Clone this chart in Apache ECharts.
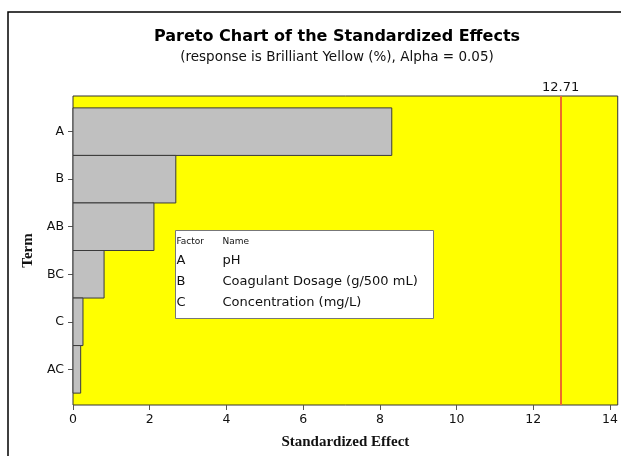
<!DOCTYPE html>
<html>
<head>
<meta charset="utf-8">
<script src="https://cdn.jsdelivr.net/npm/echarts@6/dist/echarts.min.js"></script>
<style>
  html, body { margin: 0; padding: 0; background: #fff; }
  #chart { width: 621px; height: 456px; }
</style>
</head>
<body>
<div id="chart"></div>
<script>
// terms in Pareto order (largest effect on top)
const terms = ["A", "B", "AB", "BC", "C", "AC"];
const effects = [8.31, 2.68, 2.11, 0.81, 0.26, 0.20];
const critical = 12.71;
const factorKeys = ["A", "B", "C"];
const factorNames = ["pH", "Coagulant Dosage (g/500 mL)", "Concentration (mg/L)"];

const chart = echarts.init(document.getElementById("chart"));

const tickFont = { fontFamily: "DejaVu Sans", fontSize: 12.5, color: "#111" };

// legend box rows
const legendItems = [
  { type: "rect", shape: { x: 0, y: 0, width: 258, height: 88 },
    style: { fill: "#fff", stroke: "#777", lineWidth: 1 } },
  { type: "text", x: 1, y: 7, style: { text: "Factor", font: "9px 'DejaVu Sans'", fill: "#111" } },
  { type: "text", x: 47, y: 7, style: { text: "Name", font: "9px 'DejaVu Sans'", fill: "#111" } }
];
factorKeys.forEach((k, i) => {
  legendItems.push({ type: "text", x: 1, y: 24 + i * 21,
    style: { text: k, font: "13px 'DejaVu Sans'", fill: "#111" } });
  legendItems.push({ type: "text", x: 47, y: 24 + i * 21,
    style: { text: factorNames[i], font: "13px 'DejaVu Sans'", fill: "#111" } });
});

const options = {
  animation: false,
  backgroundColor: "#fff",
  title: {
    text: "Pareto Chart of the Standardized Effects",
    subtext: "(response is Brilliant Yellow (%), Alpha = 0.05)",
    left: 332,
    textAlign: "center",
    top: 24,
    itemGap: 5,
    textStyle: { fontFamily: "DejaVu Sans", fontWeight: "bold", fontSize: 16, color: "#000" },
    subtextStyle: { fontFamily: "DejaVu Sans", fontSize: 13.5, color: "#111" }
  },
  grid: {
    left: 73, right: 3, top: 96, bottom: 51,
    show: true,
    backgroundColor: "#ffff00",
    borderColor: "#333",
    borderWidth: 1
  },
  xAxis: {
    type: "value",
    min: 0,
    max: 14.2,
    interval: 2,
    splitLine: { show: false },
    axisLine: { show: false, onZero: false },
    axisTick: { show: true, length: 5, lineStyle: { color: "#555" } },
    axisLabel: { ...tickFont, margin: 8, showMaxLabel: false },
    name: "Standardized Effect",
    nameLocation: "middle",
    nameGap: 30,
    nameTextStyle: { fontFamily: "Liberation Serif", fontWeight: "bold", fontSize: 15, color: "#111" }
  },
  yAxis: {
    type: "value",
    inverse: true,
    min: -0.75,
    max: 5.75,
    splitLine: { show: false },
    axisLine: { show: false, onZero: false },
    axisTick: { show: true, length: 5, lineStyle: { color: "#555" }, customValues: terms.map((t, i) => i) },
    axisLabel: {
      ...tickFont,
      margin: 9,
      customValues: terms.map((t, i) => i),
      formatter: (v) => terms[Math.round(v)] || ""
    },
    name: "Term",
    nameLocation: "middle",
    nameGap: 36,
    nameRotate: 90,
    nameTextStyle: { fontFamily: "Liberation Serif", fontWeight: "bold", fontSize: 15, color: "#111" }
  },
  series: [
    {
      type: "custom",
      data: effects.map((v, i) => [v, i]),
      renderItem: (params, api) => {
        const v = api.value(0);
        const i = api.value(1);
        const p0 = api.coord([0, i - 0.5]);
        const p1 = api.coord([v, i + 0.5]);
        return {
          type: "rect",
          shape: { x: p0[0], y: p0[1], width: p1[0] - p0[0], height: p1[1] - p0[1] },
          style: { fill: "#c0c0c0", stroke: "#3a3a3a", lineWidth: 1 }
        };
      },
      markLine: {
        silent: true,
        symbol: "none",
        lineStyle: { color: "#ee6a2a", width: 2, type: "solid" },
        label: {
          show: true,
          position: "start",
          formatter: String(critical),
          fontFamily: "DejaVu Sans",
          fontSize: 13,
          color: "#111",
          distance: 2
        },
        data: [{ xAxis: critical }]
      }
    }
  ],
  graphic: [
    { type: "rect", shape: { x: 8, y: 12, width: 700, height: 500 },
      style: { fill: "none", stroke: "#000", lineWidth: 1.5 }, z: 100 },
    { type: "group", left: 175, top: 230, children: legendItems, z: 100 }
  ]
};

chart.setOption(options);
</script>
</body>
</html>
